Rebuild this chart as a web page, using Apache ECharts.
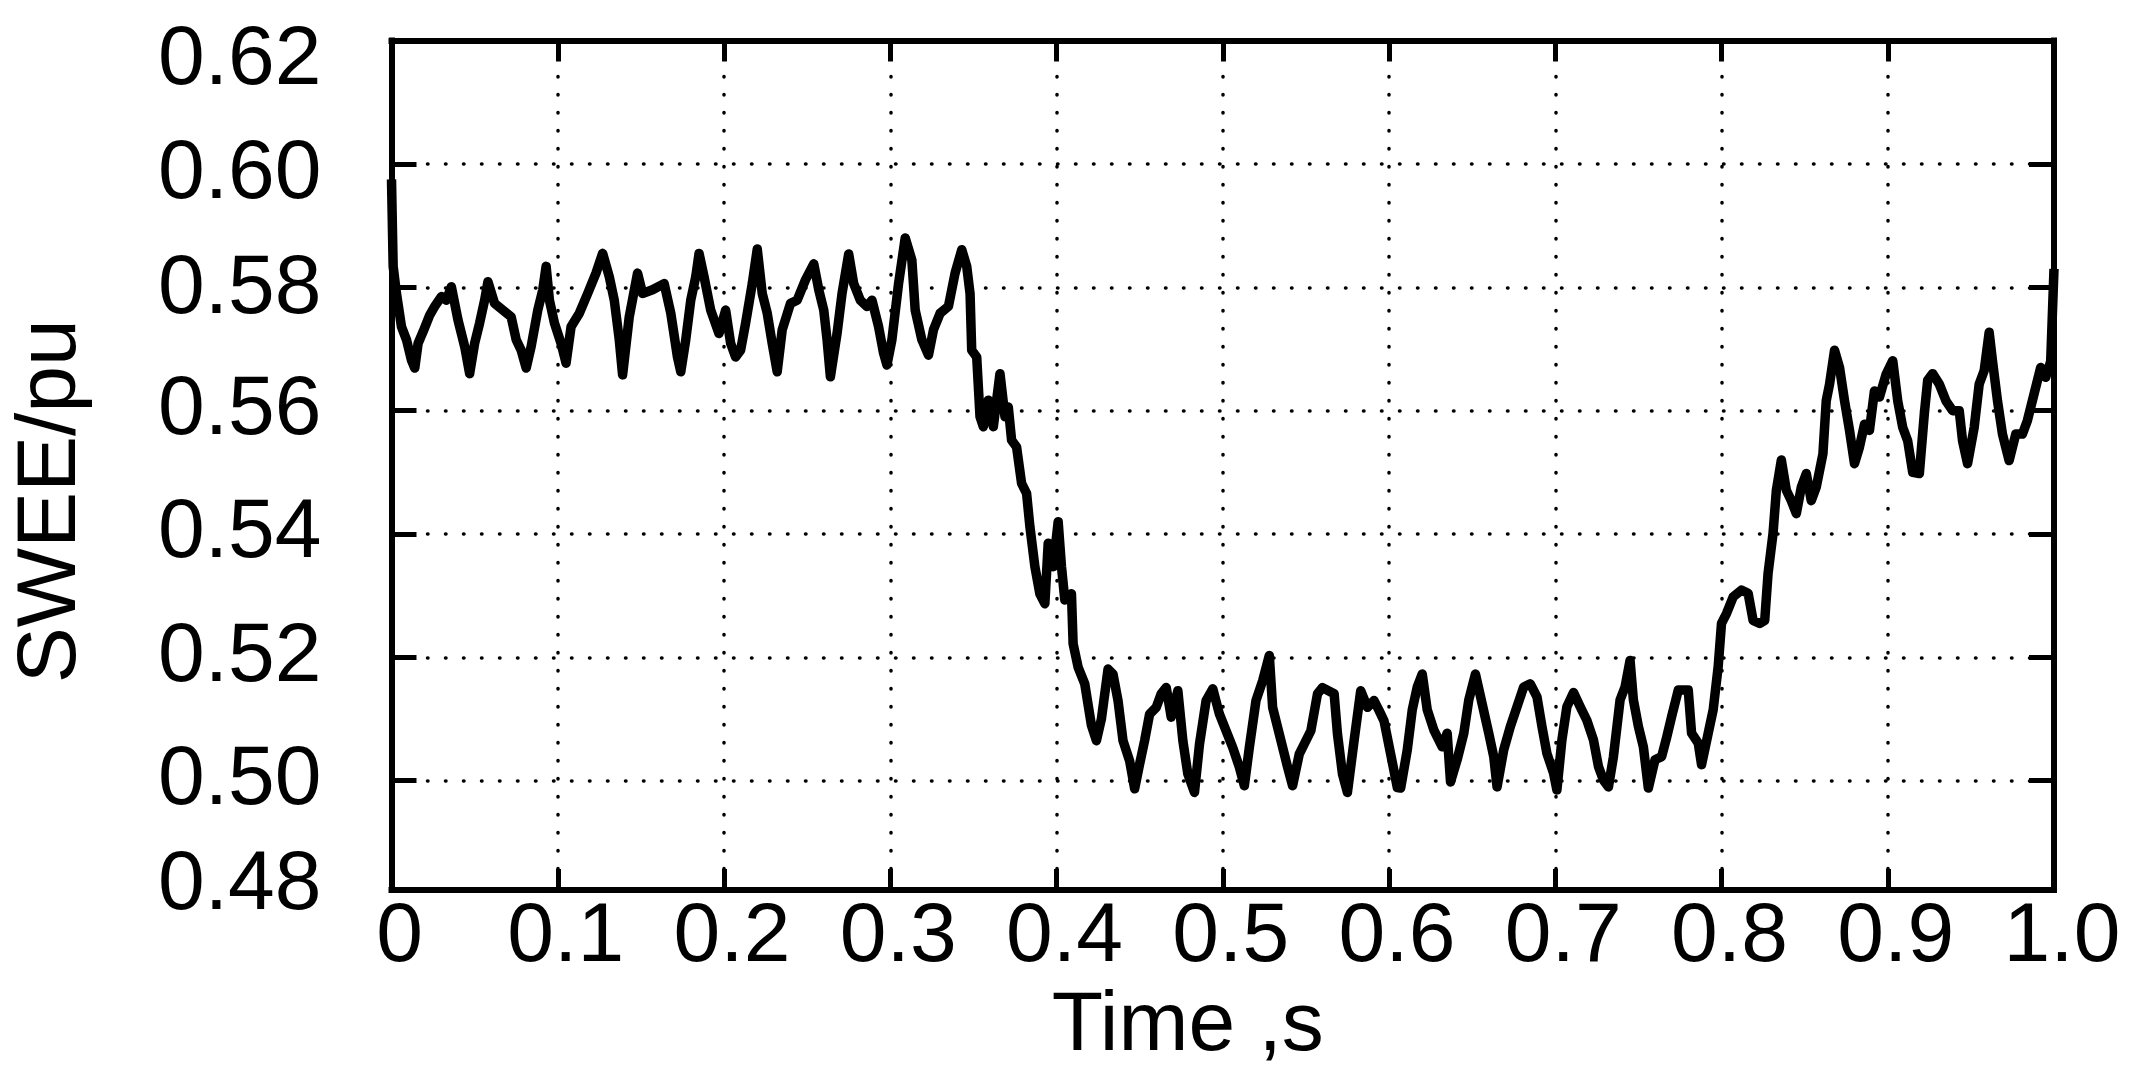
<!DOCTYPE html>
<html>
<head>
<meta charset="utf-8">
<script src="https://cdn.jsdelivr.net/npm/echarts/dist/echarts.min.js"></script>
<style>
html,body{margin:0;padding:0;background:#fff;}
#chart{width:2145px;height:1077px;}
</style>
</head>
<body>
<div id="chart"></div>
<script>
// ---- data ----
const timeS = [
0.000,0.001,0.003,0.006,0.009,0.012,0.014,0.016,0.019,0.023,
0.026,0.030,0.033,0.036,0.040,0.044,0.047,0.050,0.053,0.056,
0.058,0.062,0.067,0.072,0.075,0.078,0.081,0.084,0.088,0.091,
0.093,0.095,0.098,0.102,0.105,0.108,0.113,0.118,0.123,0.127,
0.131,0.134,0.137,0.139,0.143,0.148,0.151,0.157,0.164,0.168,
0.172,0.174,0.177,0.180,0.183,0.185,0.188,0.192,0.197,0.201,
0.204,0.207,0.210,0.213,0.217,0.220,0.223,0.226,0.229,0.232,
0.235,0.240,0.244,0.249,0.254,0.257,0.260,0.262,0.264,0.268,
0.271,0.275,0.278,0.282,0.286,0.289,0.293,0.296,0.298,0.301,
0.305,0.309,0.313,0.315,0.319,0.323,0.326,0.330,0.335,0.339,
0.343,0.346,0.348,0.349,0.352,0.354,0.356,0.359,0.362,0.366,
0.369,0.371,0.373,0.376,0.379,0.382,0.384,0.387,0.390,0.393,
0.395,0.398,0.401,0.403,0.405,0.409,0.410,0.413,0.417,0.421,
0.424,0.427,0.431,0.434,0.437,0.440,0.444,0.447,0.450,0.453,
0.456,0.460,0.463,0.466,0.469,0.473,0.476,0.479,0.483,0.486,
0.490,0.494,0.498,0.502,0.506,0.510,0.513,0.516,0.520,0.524,
0.528,0.530,0.535,0.539,0.542,0.546,0.553,0.557,0.560,0.567,
0.569,0.572,0.575,0.579,0.583,0.587,0.591,0.594,0.597,0.601,
0.605,0.607,0.611,0.614,0.617,0.620,0.623,0.627,0.632,0.635,
0.637,0.641,0.645,0.648,0.652,0.656,0.660,0.663,0.665,0.669,
0.673,0.677,0.681,0.685,0.689,0.692,0.695,0.699,0.701,0.704,
0.707,0.711,0.715,0.719,0.723,0.726,0.729,0.732,0.735,0.739,
0.742,0.745,0.747,0.750,0.753,0.756,0.760,0.764,0.767,0.770,
0.774,0.780,0.782,0.786,0.788,0.792,0.795,0.798,0.800,0.803,
0.807,0.812,0.816,0.819,0.823,0.826,0.828,0.831,0.833,0.836,
0.839,0.842,0.845,0.848,0.851,0.854,0.857,0.861,0.863,0.865,
0.868,0.871,0.874,0.877,0.880,0.883,0.886,0.889,0.892,0.895,
0.899,0.903,0.906,0.909,0.912,0.915,0.919,0.922,0.924,0.927,
0.931,0.935,0.939,0.943,0.945,0.948,0.952,0.955,0.958,0.961,
0.963,0.966,0.969,0.973,0.977,0.981,0.984,0.988,0.992,0.995,
0.998,1.000
];
const sweePu = [
0.5975,0.5834,0.5790,0.5736,0.5715,0.5682,0.5669,0.5709,0.5728,0.5755,
0.5769,0.5785,0.5779,0.5801,0.5747,0.5704,0.5660,0.5709,0.5742,0.5779,
0.5809,0.5774,0.5763,0.5752,0.5715,0.5698,0.5669,0.5704,0.5763,0.5796,
0.5834,0.5779,0.5742,0.5709,0.5677,0.5736,0.5758,0.5790,0.5823,0.5855,
0.5817,0.5779,0.5715,0.5658,0.5752,0.5823,0.5790,0.5796,0.5806,0.5758,
0.5687,0.5663,0.5715,0.5779,0.5817,0.5855,0.5817,0.5763,0.5725,0.5763,
0.5709,0.5687,0.5698,0.5742,0.5806,0.5862,0.5790,0.5758,0.5709,0.5663,
0.5731,0.5774,0.5779,0.5812,0.5838,0.5796,0.5763,0.5715,0.5655,0.5725,
0.5790,0.5854,0.5806,0.5779,0.5769,0.5779,0.5736,0.5693,0.5674,0.5715,
0.5806,0.5880,0.5844,0.5763,0.5715,0.5690,0.5731,0.5758,0.5769,0.5823,
0.5861,0.5834,0.5790,0.5698,0.5687,0.5590,0.5574,0.5617,0.5574,0.5660,
0.5590,0.5606,0.5552,0.5541,0.5482,0.5466,0.5412,0.5347,0.5303,0.5287,
0.5385,0.5347,0.5420,0.5347,0.5293,0.5303,0.5222,0.5184,0.5157,0.5090,
0.5065,0.5100,0.5181,0.5173,0.5130,0.5065,0.5032,0.4987,0.5027,0.5065,
0.5108,0.5119,0.5141,0.5151,0.5103,0.5146,0.5065,0.5011,0.4981,0.5059,
0.5130,0.5149,0.5108,0.5081,0.5054,0.5022,0.4992,0.5054,0.5130,0.5162,
0.5203,0.5119,0.5065,0.5022,0.4992,0.5043,0.5081,0.5141,0.5151,0.5141,
0.5076,0.5011,0.4981,0.5065,0.5146,0.5119,0.5130,0.5114,0.5097,0.5043,
0.4989,0.4988,0.5050,0.5115,0.5152,0.5173,0.5115,0.5082,0.5055,0.5077,
0.4998,0.5034,0.5077,0.5131,0.5173,0.5125,0.5077,0.5039,0.4990,0.5050,
0.5088,0.5120,0.5152,0.5157,0.5136,0.5088,0.5044,0.5012,0.4985,0.5066,
0.5120,0.5143,0.5120,0.5098,0.5066,0.5023,0.5001,0.4990,0.5039,0.5131,
0.5152,0.5195,0.5131,0.5088,0.5055,0.4988,0.5034,0.5039,0.5070,0.5104,
0.5147,0.5147,0.5077,0.5061,0.5026,0.5077,0.5115,0.5185,0.5255,0.5271,
0.5298,0.5309,0.5304,0.5260,0.5255,0.5260,0.5336,0.5401,0.5471,0.5520,
0.5471,0.5454,0.5433,0.5476,0.5498,0.5454,0.5476,0.5530,0.5616,0.5643,
0.5698,0.5670,0.5616,0.5568,0.5514,0.5541,0.5578,0.5568,0.5632,0.5622,
0.5659,0.5681,0.5616,0.5573,0.5551,0.5500,0.5498,0.5595,0.5649,0.5660,
0.5643,0.5616,0.5600,0.5600,0.5551,0.5514,0.5573,0.5643,0.5665,0.5727,
0.5681,0.5616,0.5562,0.5519,0.5562,0.5562,0.5584,0.5627,0.5670,0.5654,
0.5680,0.5830
];
const xTickLabels = ['0','0.1','0.2','0.3','0.4','0.5','0.6','0.7','0.8','0.9','1.0'];
const yTickLabels = ['0.48','0.50','0.52','0.54','0.56','0.58','0.60','0.62'];
const xTitle = 'Time ,s';
const yTitle = 'SWEE/pu';

// ---- chart ----
const FONT = '"Liberation Sans", Arial, Helvetica, sans-serif';
const Y_MIN = 0.48228;  // visible lower edge of the frame
const Y_MAX = 0.62;

const dotted = {color:'#000', width:3.5, type:[0.5,17.5], cap:'round'};
const frame = {show:true, onZero:false, lineStyle:{color:'#000', width:6, cap:'square'}};
const tickX = {show:true, inside:true, length:21, lineStyle:{color:'#000', width:5}};
const tickY = {show:true, inside:true, length:25, lineStyle:{color:'#000', width:5}};

// per-label vertical nudges (reference places top labels slightly lower)
const labelStyle = {color:'#000', fontFamily:FONT, fontSize:84};
const rich = {
  n:  Object.assign({padding:[0,0,0,0]}, labelStyle),
  d3: Object.assign({padding:[6,0,0,0]}, labelStyle),
  d10:Object.assign({padding:[22,0,0,0]}, labelStyle),
  d20:Object.assign({padding:[40,0,0,0]}, labelStyle),
  u4: Object.assign({padding:[0,0,8,0]}, labelStyle)
};
const yNudge = {'0.48':'u4','0.58':'d3','0.60':'d10','0.62':'d20'};

const chart = echarts.init(document.getElementById('chart'), null, {renderer:'canvas'});
chart.setOption({
  animation:false,
  backgroundColor:'#fff',
  grid:{left:391.5, top:40.6, width:1662.5, height:849.4, containLabel:false},
  xAxis:[{
    type:'value', min:0, max:1, interval:0.1, position:'bottom',
    axisLine:frame, axisTick:tickX,
    splitLine:{show:true, lineStyle:dotted},
    axisLabel:{show:true, color:'#000', fontFamily:FONT, fontSize:84, margin:6,
      padding:[0,0,0,16],
      formatter:v => xTickLabels[Math.round(v*10)]},
    name:xTitle, nameLocation:'middle', nameGap:88,
    nameTextStyle:{color:'#000', fontFamily:FONT, fontSize:84, padding:[0,70,0,0]}
  },{
    type:'value', min:0, max:1, interval:0.1, position:'top',
    axisLine:frame, axisTick:tickX,
    splitLine:{show:false}, axisLabel:{show:false}
  }],
  yAxis:[{
    type:'value', min:Y_MIN, max:Y_MAX, splitNumber:7, minInterval:0.02, maxInterval:0.02,
    position:'left',
    axisLine:frame, axisTick:tickY,
    splitLine:{show:true, lineStyle:dotted},
    axisLabel:{show:true, color:'#000', fontFamily:FONT, fontSize:84, margin:70,
      showMinLabel:true, showMaxLabel:true, rich:rich,
      formatter:v => {
        const s = yTickLabels[Math.round((v-0.48)/0.02)];
        return '{' + (yNudge[s] || 'n') + '|' + s + '}';
      }},
    name:yTitle, nameLocation:'middle', nameGap:298, nameRotate:90,
    nameTextStyle:{color:'#000', fontFamily:FONT, fontSize:84, padding:[0,72,0,0]}
  },{
    type:'value', min:Y_MIN, max:Y_MAX, splitNumber:7, minInterval:0.02, maxInterval:0.02,
    position:'right',
    axisLine:frame, axisTick:tickY,
    splitLine:{show:false}, axisLabel:{show:false}
  }],
  series:[{
    type:'line', xAxisIndex:0, yAxisIndex:0,
    data: timeS.map((t,i)=>[t, sweePu[i]]),
    showSymbol:false, symbol:'none',
    lineStyle:{color:'#000', width:9.5, join:'round'},
    clip:true, z:5
  }]
});
</script>
</body>
</html>
